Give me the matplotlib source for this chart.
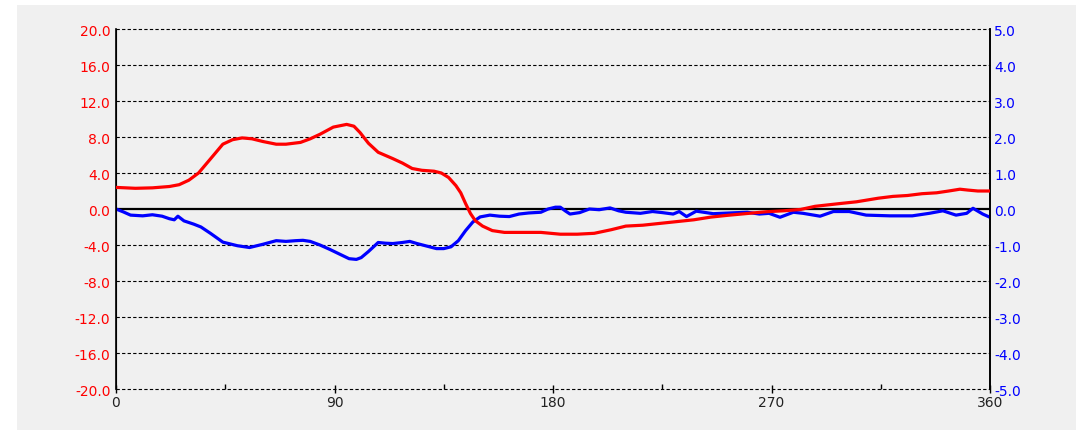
import matplotlib.pyplot as plt
import matplotlib.patches as mpatches
import numpy as np

# red series (left axis)
red_x = [0, 8, 15, 22, 26, 30, 34, 38.7, 44, 48, 52, 56, 60.5, 66, 70, 76, 80, 84,
         89.5, 95, 98, 100.5, 104, 108, 114, 118, 122, 126, 131, 134, 137, 140, 142,
         144, 146, 148, 151, 155, 160, 168, 175, 183, 190, 197, 204, 210, 217, 224,
         231, 238, 245, 252, 260, 268, 275, 282, 288, 298, 305, 314, 320, 326, 332,
         338, 343, 347.6, 351, 355, 360]
red_y = [2.4, 2.3, 2.35, 2.5, 2.7, 3.2, 4.0, 5.5, 7.2, 7.7, 7.9, 7.8, 7.5, 7.2, 7.2,
         7.4, 7.8, 8.3, 9.1, 9.4, 9.2, 8.5, 7.3, 6.3, 5.6, 5.1, 4.5, 4.3, 4.2, 4.0,
         3.5, 2.6, 1.8, 0.6, -0.5, -1.3, -1.9, -2.4, -2.6, -2.6, -2.6, -2.8, -2.8,
         -2.7, -2.3, -1.9, -1.8, -1.6, -1.4, -1.2, -0.9, -0.7, -0.5, -0.3, -0.2,
         -0.05, 0.3, 0.6, 0.8, 1.2, 1.4, 1.5, 1.7, 1.8, 2.0, 2.2, 2.1, 2.0, 2.0]

# blue series (right axis)
blue_x = [0, 3, 6, 11, 15, 19, 22, 24, 25.5, 28, 32, 35, 39, 44, 50, 55, 60.5, 66, 70,
          74, 77, 80, 84, 88, 92, 96, 99, 101, 104, 108, 111, 114, 118, 121, 124, 128,
          132, 135, 138, 141, 144, 147, 150, 154, 158, 162, 166, 170, 175, 178, 181,
          183, 185, 187, 191, 195, 199, 203.5, 207, 210, 216, 221, 225, 229.5, 232,
          235, 239, 246, 253, 260, 265, 269, 273.5, 279, 283, 290, 295.5, 302, 309,
          318.8, 328, 335, 340.6, 346, 350.4, 353, 357, 360]
blue_y = [0.0, -0.08, -0.17, -0.19, -0.16, -0.2, -0.27, -0.3, -0.2, -0.33, -0.42, -0.5,
          -0.68, -0.92, -1.02, -1.07, -0.98, -0.88, -0.9, -0.88, -0.87, -0.9, -1.0,
          -1.12, -1.25, -1.38, -1.4, -1.35, -1.18, -0.93, -0.95, -0.96, -0.93, -0.9,
          -0.96, -1.03, -1.1, -1.1, -1.05, -0.88, -0.6, -0.36, -0.22, -0.17, -0.2,
          -0.21, -0.14, -0.11, -0.09, 0.0, 0.05, 0.05, -0.05, -0.14, -0.1, 0.0, -0.02,
          0.03, -0.05, -0.09, -0.12, -0.07, -0.1, -0.14, -0.07, -0.21, -0.06, -0.13,
          -0.11, -0.09, -0.14, -0.12, -0.23, -0.09, -0.12, -0.2, -0.07, -0.07, -0.17,
          -0.19, -0.19, -0.12, -0.05, -0.17, -0.12, 0.02, -0.14, -0.23]

x_major = [0, 90, 180, 270, 360]
x_minor = [45, 135, 225, 315]
left_ticks = np.arange(-20, 21, 4)
right_ticks = np.arange(-5, 6, 1)

fig = plt.figure(figsize=(10.76, 4.31), dpi=100)
fig.patch.set_facecolor('white')
# grey panel behind the chart
panel = mpatches.Rectangle((17 / 1076, 0), 1, 1 - 6 / 431, transform=fig.transFigure,
                           facecolor='#f0f0f0', edgecolor='none', zorder=-10)
fig.add_artist(panel)

ax = fig.add_axes([116 / 1076, 41 / 431, 874 / 1076, 360 / 431])
ax.set_facecolor('#f0f0f0')
ax.set_xlim(0, 360)
ax.set_ylim(-20, 20)

# grid lines
for v in left_ticks:
    if v == 0:
        ax.axhline(0, color='black', lw=1.6, zorder=1)
    else:
        ax.axhline(v, color='black', lw=0.8, ls=(0, (3, 2)), zorder=1, clip_on=False)

ax.set_yticks(left_ticks)
ax.set_yticklabels(['%.1f' % v for v in left_ticks])
ax.tick_params(axis='y', length=0, pad=4, labelsize=10, labelcolor='red')
ax.set_xticks(x_major)
ax.set_xticks(x_minor, minor=True)
ax.set_xticklabels([str(v) for v in x_major])
ax.tick_params(axis='x', which='major', direction='inout', length=6, width=1,
               labelsize=10, pad=1, labelcolor='#222222')
ax.tick_params(axis='x', which='minor', direction='in', length=3.6, width=1)
for s in ['top', 'bottom']:
    ax.spines[s].set_visible(False)
ax.spines['left'].set_linewidth(1.2)
ax.spines['right'].set_linewidth(1.2)

# blue series on the right axis
ax2 = ax.twinx()
ax2.set_ylim(-5, 5)
ax2.set_yticks(right_ticks)
ax2.set_yticklabels(['%.1f' % v for v in right_ticks])
ax2.tick_params(axis='y', length=0, pad=3, labelsize=10, labelcolor='blue')
for s in ['top', 'bottom']:
    ax2.spines[s].set_visible(False)
ax2.spines['right'].set_linewidth(1.2)
ax2.plot(blue_x, blue_y, color='blue', lw=2.3, solid_capstyle='round')

# red series drawn on top
ax3 = ax.twinx()
ax3.set_ylim(-20, 20)
ax3.axis('off')
ax3.plot(red_x, red_y, color='red', lw=2.3, solid_capstyle='round')

plt.savefig('out.png', dpi=100, facecolor=fig.get_facecolor())
